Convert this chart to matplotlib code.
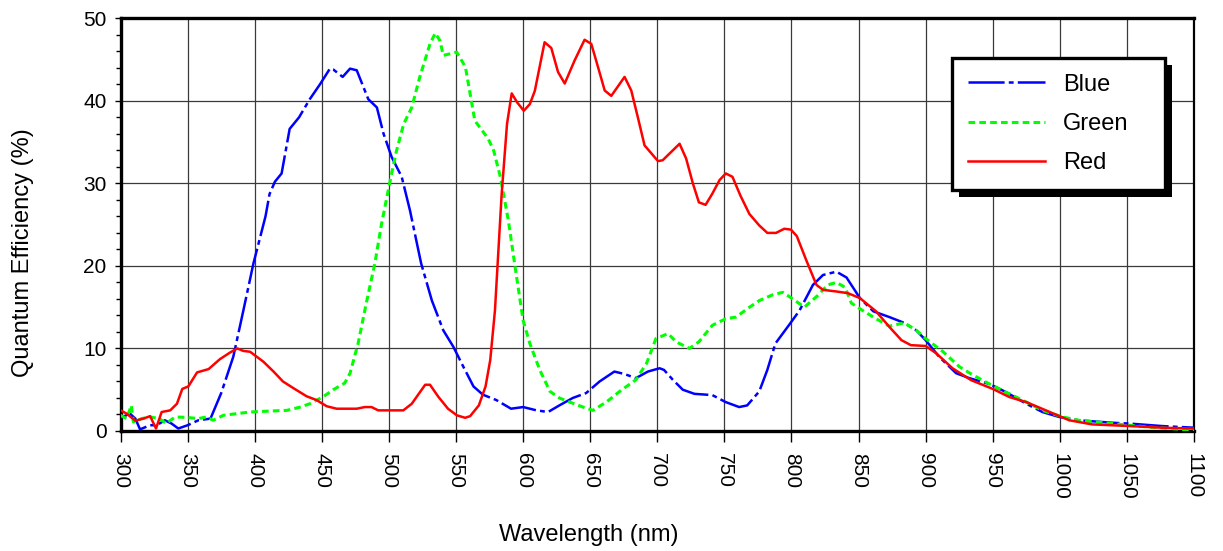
import numpy as np
import matplotlib
matplotlib.use('Agg')
import matplotlib.pyplot as plt
from matplotlib.patches import Rectangle
from matplotlib.ticker import MultipleLocator

plt.rcParams['font.family'] = ['Liberation Sans', 'DejaVu Sans']
plt.rcParams['lines.scale_dashes'] = False

# 数据
blue_nm = [300, 307, 311, 314.5, 322, 327, 333, 338, 343, 350, 358, 367, 375, 384, 391.5, 399,
           408, 411, 415, 420, 426, 433, 441, 448.6, 456, 458.5, 465.5, 471, 476, 484.6, 491,
           496, 502, 509.5, 515.7, 524, 532, 540.5, 548, 555.4, 563, 570, 580, 591, 600, 610,
           618.6, 627, 637, 647, 657, 668, 675.6, 684, 693, 701.7, 705, 711.6, 719, 727.7, 741,
           751, 761, 767, 776, 782, 788, 798, 806, 816, 823.5, 833.5, 841, 851, 861, 873, 884,
           893, 900, 910, 922.7, 932.6, 947.5, 960, 975, 987, 999.5, 1014, 1039, 1052, 1076, 1100]
blue_qe = [1.6, 2.1, 1.5, 0.2, 0.7, 0.7, 1.3, 0.9, 0.3, 0.7, 1.3, 1.5, 4.6, 9.0, 14.6, 20.3,
           26.0, 28.7, 30.2, 31.2, 36.6, 38.0, 40.2, 42.0, 43.9, 43.8, 42.9, 43.9, 43.7, 40.2, 39.2,
           36.0, 33.2, 30.8, 26.7, 20.3, 15.8, 12.2, 10.2, 7.8, 5.4, 4.4, 3.75, 2.7, 2.9, 2.5,
           2.3, 3.1, 4.0, 4.6, 6.0, 7.2, 6.9, 6.4, 7.2, 7.6, 7.4, 6.2, 5.0, 4.5, 4.35,
           3.5, 2.9, 3.1, 4.8, 7.4, 10.6, 12.8, 14.6, 17.7, 18.9, 19.3, 18.6, 16.1, 14.5, 13.8, 13.1,
           12.2, 11.0, 9.0, 7.0, 6.4, 5.7, 4.7, 3.3, 2.3, 1.7, 1.3, 1.0, 0.9, 0.6, 0.4]

green_nm = [300, 304.5, 308, 309.5, 315.7, 322, 329, 334, 340.6, 349, 358, 364, 369, 376.6,
            386.5, 396.5, 409, 424, 434, 441, 451, 458.5, 467, 471, 477, 483, 489.5, 494.5, 501,
            505.7, 511, 517, 523, 530.6, 534.5, 538, 540.5, 550.5, 557, 564, 574, 578, 583, 589,
            594, 600, 605, 612.4, 620, 627, 634.7, 644.6, 652, 662, 672, 684, 692, 699, 708, 714,
            724, 731, 741, 751, 758.7, 767, 776, 786, 793.5, 801, 809.6, 819.5, 827, 833.5, 840,
            844.6, 853, 863, 873, 884, 893, 900, 913, 925, 935, 947.5, 960, 975, 987, 1002, 1014,
            1039, 1064, 1100]
green_qe = [1.9, 1.5, 3.1, 1.1, 1.5, 1.7, 1.5, 0.9, 1.7, 1.65, 1.5, 1.7, 1.3, 1.9,
            2.1, 2.3, 2.4, 2.5, 2.9, 3.3, 4.15, 5.0, 5.8, 7.0, 10.6, 15.4, 20.3, 25.1, 30.4,
            34.0, 37.2, 39.2, 42.9, 46.9, 48.2, 47.3, 45.5, 45.9, 44.1, 37.6, 35.4, 34.0, 30.8, 25.5,
            19.9, 13.4, 10.6, 7.4, 4.8, 4.0, 3.5, 2.9, 2.5, 3.5, 4.8, 6.2, 8.2, 11.2, 11.8, 10.8,
            10.0, 10.8, 12.8, 13.6, 13.8, 14.8, 15.8, 16.5, 16.8, 16.0, 15.0, 16.4, 17.7, 18.0, 17.4,
            15.5, 14.6, 13.6, 12.7, 13.1, 12.2, 11.2, 9.6, 7.8, 6.8, 5.7, 4.7, 3.5, 2.5, 1.7, 1.3,
            0.9, 0.5, 0.1]

red_nm = [300, 304.5, 311, 317, 322, 326.4, 330.6, 337, 342, 346, 350.5, 357, 365.6, 374,
          381.5, 387, 391.5, 396.5, 406.4, 414, 421, 428.7, 438.7, 446, 453.6, 461, 476, 482,
          487, 492, 510.7, 517, 527, 530.6, 536.8, 544, 550.6, 556.8, 560.5, 567, 572, 575.5,
          579, 584, 588, 591.5, 595.6, 600.5, 605, 608.7, 616, 621, 626, 631, 638.4, 645.8,
          650.8, 655.8, 660.8, 665.7, 675.6, 680.6, 685.5, 690.5, 700.5, 704, 716.6, 721.5,
          726.5, 731, 736, 741, 746.4, 751, 756, 762, 768.6, 776, 782, 788.5, 794.6, 799.6, 804,
          811, 818.6, 823.5, 833.5, 842, 851, 863, 873, 882, 889, 900, 908, 920, 934, 950,
          962.6, 975, 989.6, 1007, 1024, 1052, 1076, 1100]
red_qe = [2.5, 2.1, 1.25, 1.5, 1.8, 0.3, 2.3, 2.5, 3.3, 5.1, 5.4, 7.1, 7.5, 8.7,
          9.5, 10.0, 9.7, 9.6, 8.4, 7.2, 6.0, 5.2, 4.2, 3.75, 3.0, 2.7, 2.7, 2.9,
          2.9, 2.5, 2.5, 3.3, 5.6, 5.6, 4.15, 2.7, 1.9, 1.6, 1.8, 3.1, 5.4, 8.6,
          14.6, 28.7, 37.2, 40.9, 39.8, 38.8, 39.6, 41.2, 47.1, 46.4, 43.5, 42.1, 44.9, 47.4,
          46.9, 44.1, 41.25, 40.6, 42.9, 41.25, 38.0, 34.6, 32.7, 32.8, 34.8, 33.0,
          30.0, 27.7, 27.4, 28.75, 30.4, 31.2, 30.8, 28.5, 26.3, 24.9, 24.0, 24.0, 24.5, 24.4, 23.6,
          20.7, 17.7, 17.1, 16.9, 16.7, 16.1, 14.5, 12.6, 11.0, 10.4, 10.3, 9.4, 7.6, 6.15, 5.1,
          4.1, 3.5, 2.5, 1.3, 0.8, 0.6, 0.4, 0.3]

x_ticks = np.arange(300, 1101, 50)
y_ticks = np.arange(0, 51, 10)

fig = plt.figure(figsize=(12.23, 5.51), dpi=100)
ax = fig.add_axes([0.0986, 0.2178, 0.8777, 0.749])

ax.plot(blue_nm, blue_qe, color='#0000ff', lw=1.8, dashes=(26, 3, 3.5, 3), label='Blue', zorder=3)
ax.plot(green_nm, green_qe, color='#00ff00', lw=2.2, dashes=(4.8, 3), label='Green', zorder=3)
ax.plot(red_nm, red_qe, color='#ff0000', lw=1.8, label='Red', zorder=3)

ax.set_xlim(300, 1100)
ax.set_ylim(0, 50)
ax.set_xticks(x_ticks)
ax.set_yticks(y_ticks)
ax.yaxis.set_minor_locator(MultipleLocator(2))
ax.grid(True, which='major', color='#3a3a3a', lw=0.9)
ax.set_axisbelow(True)

ax.tick_params(axis='x', which='major', length=8, width=1, labelsize=15,
               labelrotation=-90, pad=8)
ax.tick_params(axis='y', which='major', length=4, width=1, labelsize=15, pad=6)
ax.tick_params(axis='y', which='minor', length=3.5, width=1)
for s in ax.spines.values():
    s.set_linewidth(2.4)
ax.spines['right'].set_linewidth(1.6)

# 坐标轴标题 (位置按原图)
fig.text(22.7 / 1223, 1 - 252.5 / 551, 'Quantum Efficiency (%)', fontsize=17,
         rotation=90, ha='center', va='center')
fig.text(589 / 1223, 1 - 535 / 551, 'Wavelength (nm)', fontsize=17, ha='center', va='center')

leg = ax.legend(loc='upper left', bbox_to_anchor=(0.775, 0.598, 0.198, 0.306), mode='expand',
                borderaxespad=0, fontsize=17, handlelength=3.26, handletextpad=0.75,
                labelspacing=0.73, borderpad=0.67, fancybox=False, framealpha=1,
                edgecolor='black')
leg.get_frame().set_linewidth(2.4)
leg.set_zorder(6)

# 手动画阴影
fig.canvas.draw()
bb = leg.get_window_extent()
shadow = Rectangle((bb.x0 + 7, bb.y0 - 7), bb.width, bb.height, transform=None,
                   facecolor='black', edgecolor='none', zorder=5.5, clip_on=False)
ax.add_artist(shadow)

fig.savefig('out.png', dpi=100)
